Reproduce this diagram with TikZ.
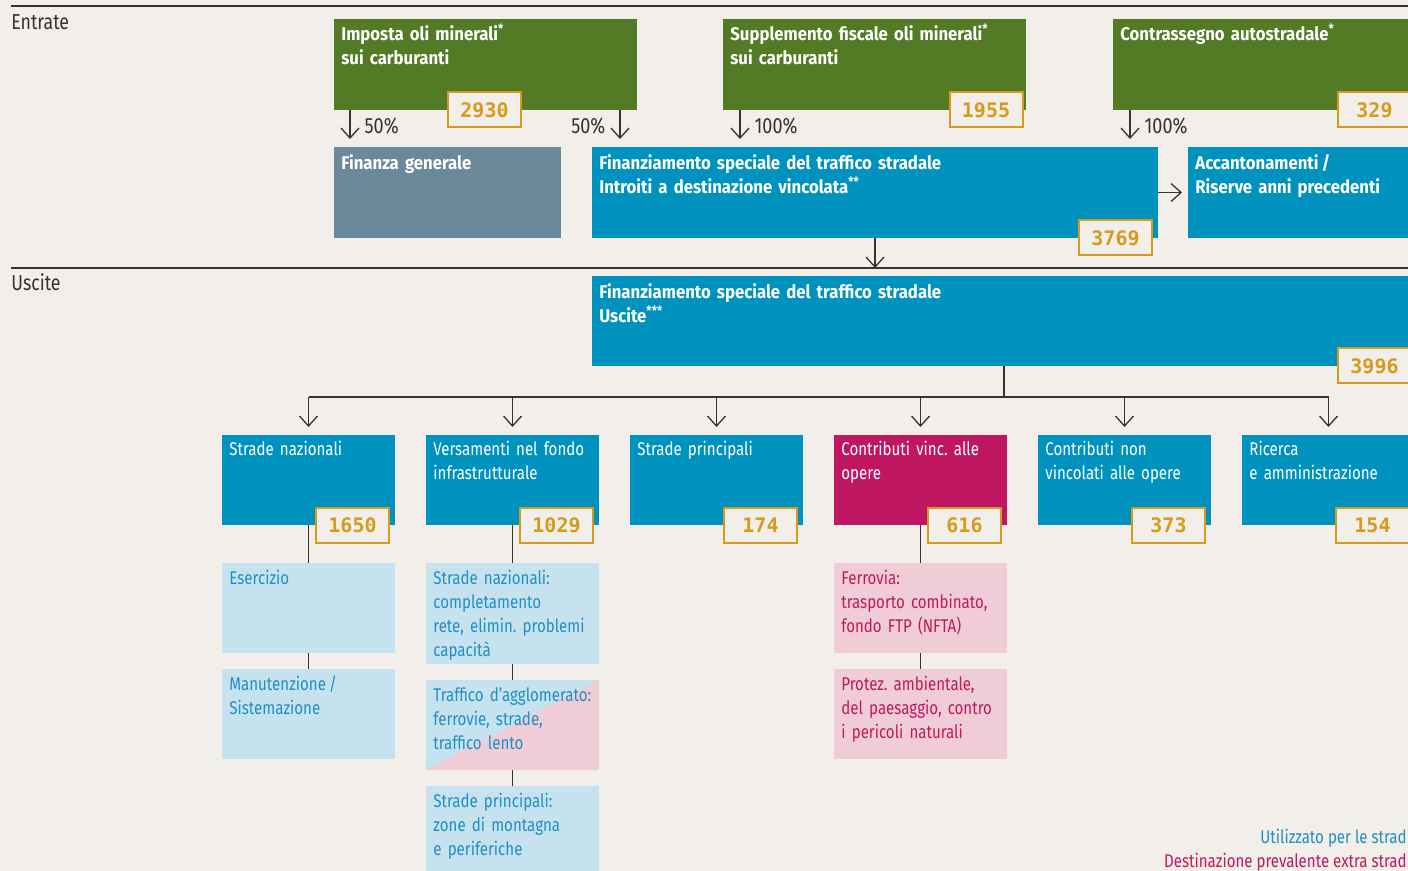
\documentclass[tikz,border=0pt]{standalone}
\usepackage{fontspec}
\setmainfont{Fira Sans}[UprightFeatures={FakeStretch=0.82}, BoldFeatures={FakeStretch=0.91}]
\newfontfamily\digitfont{DejaVu Sans Mono}
\usetikzlibrary{positioning}
\usetikzlibrary{arrows.meta}
\frenchspacing

\definecolor{paper}{HTML}{F2EFEA}
\definecolor{leaf}{HTML}{537A24}
\definecolor{sea}{HTML}{0092BF}
\definecolor{slate}{HTML}{6A8A9B}
\definecolor{berry}{HTML}{BE1660}
\definecolor{sky}{HTML}{C6E2EE}
\definecolor{blush}{HTML}{F0CDD6}
\definecolor{gold}{HTML}{D69A1C}
\definecolor{ink}{HTML}{333333}
\definecolor{skytext}{HTML}{1F8FC4}
\definecolor{berrytext}{HTML}{C0185F}

\begin{document}
\begin{tikzpicture}[
                x=0.5pt, y=-0.5pt,
                node distance=15.5pt,
                >={Straight Barb[length=5pt,width=9pt]},
                box/.style={
                        inner sep=0pt,
                        outer sep=0pt,
                        minimum width=86.5pt,
                        minimum height=45pt
                    },
                leafbox/.style={box, fill=leaf, minimum width=151.5pt, minimum height=45.5pt, anchor=north west},
                seabox/.style={box, fill=sea},
                berrybox/.style={box, fill=berry},
                skybox/.style={box, fill=sky},
                blushbox/.style={box, fill=blush},
                head/.style={
                        anchor=base west,
                        inner sep=0pt,
                        text width=220pt,
                        align=left,
                        text=white,
                        font=\bfseries\fontsize{9.2}{12}\selectfont
                    },
                plain/.style={head, font=\fontsize{9.2}{12}\selectfont},
                value/.style={
                        draw=gold,
                        fill=paper,
                        text=gold,
                        line width=1pt,
                        inner sep=0pt,
                        minimum width=36.5pt,
                        minimum height=17.5pt,
                        font=\digitfont\bfseries\fontsize{10}{12}\selectfont
                    },
                link/.style={draw=ink, line width=0.65pt},
                rule/.style={draw=ink, line width=0.8pt},
                pct/.style={text=ink, inner sep=0pt, font=\fontsize{11}{12}\selectfont},
                section/.style={anchor=base west, inner sep=0pt, text=ink, font=\fontsize{10.8}{12}\selectfont},
                legend/.style={anchor=base east, inner sep=0pt, font=\fontsize{9.2}{12}\selectfont}
            ]

            % Background and section rules
            \path[use as bounding box, fill=paper] (0,0) rectangle (1408,871);
            \draw[rule] (11,6) -- (1408,6);
            \draw[rule] (11,268) -- (1408,268);
            \node[section] (entrate) at (11,30) {Entrate};
            \node[section] (uscite) at (11,291) {Uscite};

            % Revenue boxes
            \node[leafbox] (imposta) at (334,19) {};
            \node[leafbox] (supp) at (723,19) {};
            \node[leafbox] (contr) at (1113,19) {};
            \node[head] (impostat) at ([shift={(7,22)}]imposta.north west) {Imposta oli minerali\textsuperscript{*}\\sui carburanti};
            \node[head] (suppt) at ([shift={(7,22)}]supp.north west) {Supplemento fiscale oli minerali\textsuperscript{*}\\sui carburanti};
            \node[head] (contrt) at ([shift={(7,22)}]contr.north west) {Contrassegno autostradale\textsuperscript{*}};

            % Second row
            \node[box, fill=slate, minimum width=113.5pt, minimum height=45.5pt, anchor=north west] (fingen) at (334,147) {};
            \node[box, fill=sea, minimum width=283pt, minimum height=45.5pt, anchor=north west] (fsts) at (592,147) {};
            \node[box, fill=sea, minimum width=114pt, minimum height=45.5pt, anchor=north west] (accant) at (1188,147) {};
            \node[head] (fingent) at ([shift={(7,23)}]fingen.north west) {Finanza generale};
            \node[head] (fstst) at ([shift={(7,23)}]fsts.north west) {Finanziamento speciale del traffico stradale\\Introiti a destinazione vincolata\textsuperscript{**}};
            \node[head] (accantt) at ([shift={(7,23)}]accant.north west) {Accantonamenti\,/\\Riserve anni precedenti};

            % Expenditure box
            \node[box, fill=sea, minimum width=412pt, anchor=north west] (usc) at (592,276) {};
            \node[head] (usct) at ([shift={(7,23)}]usc.north west) {Finanziamento speciale del traffico stradale\\Uscite\textsuperscript{***}};

            % Third row
            \node[seabox, anchor=north west] (sn) at (222,435) {};
            \node[seabox, right=of sn] (vf) {};
            \node[seabox, right=of vf] (sp) {};
            \node[berrybox, right=of sp] (cv) {};
            \node[seabox, right=of cv] (cn) {};
            \node[seabox, right=of cn] (ric) {};
            \node[plain, text=white] (snt) at ([shift={(7,21)}]sn.north west) {Strade nazionali};
            \node[plain, text=white] (vft) at ([shift={(7,21)}]vf.north west) {Versamenti nel fondo\\infrastrutturale};
            \node[plain, text=white] (spt) at ([shift={(7,21)}]sp.north west) {Strade principali};
            \node[plain, text=white] (cvt) at ([shift={(7,21)}]cv.north west) {Contributi vinc. alle\\opere};
            \node[plain, text=white] (cnt) at ([shift={(7,21)}]cn.north west) {Contributi non\\vincolati alle opere};
            \node[plain, text=white] (rict) at ([shift={(7,21)}]ric.north west) {Ricerca\\e amministrazione};

            % Detail boxes
            \node[skybox, below=19pt of sn] (eserc) {};
            \node[skybox, below=8pt of eserc] (manut) {};
            \node[skybox, minimum height=50.5pt, below=19pt of vf] (snc) {};
            \node[skybox, below=8pt of snc] (agglo) {};
            \node[skybox, below=8pt of agglo] (spz) {};
            \node[blushbox, below=19pt of cv] (ferr) {};
            \node[blushbox, below=8pt of ferr] (protez) {};
            \fill[blush] (agglo.south west) -- (agglo.north east) -- (agglo.south east) -- cycle;
            \node[plain, text=skytext] (esenct) at ([shift={(7,21)}]eserc.north west) {Esercizio};
            \node[plain, text=skytext] (manutt) at ([shift={(7,21)}]manut.north west) {Manutenzione\,/\\Sistemazione};
            \node[plain, text=skytext] (snct) at ([shift={(7,21)}]snc.north west) {Strade nazionali:\\completamento\\rete, elimin. problemi\\capacità};
            \node[plain, text=skytext] (agglot) at ([shift={(7,21)}]agglo.north west) {Traffico d’agglomerato:\\ferrovie, strade,\\traffico lento};
            \node[plain, text=skytext] (spzt) at ([shift={(7,21)}]spz.north west) {Strade principali:\\zone di montagna\\e periferiche};
            \node[plain, text=berrytext] (ferrt) at ([shift={(7,21)}]ferr.north west) {Ferrovia:\\trasporto combinato,\\fondo FTP (NFTA)};
            \node[plain, text=berrytext] (protezt) at ([shift={(7,21)}]protez.north west) {Protez. ambientale,\\del paesaggio, contro\\i pericoli naturali};

            % Arrows between revenue and funds
            \draw[link, ->, shorten >=4pt] ([xshift=8pt]imposta.south west) -- ([xshift=8pt]fingen.north west)
                node[pct, pos=0.42, right=7pt] (p1) {50\%};
            \draw[link, ->, shorten >=4pt] ([xshift=-8.5pt]imposta.south east) -- ([xshift=14pt]fsts.north west)
                node[pct, pos=0.42, left=7pt] (p2) {50\%};
            \draw[link, ->, shorten >=4pt] ([xshift=8.5pt]supp.south west) -- ([xshift=74pt]fsts.north west)
                node[pct, pos=0.42, right=7pt] (p3) {100\%};
            \draw[link, ->, shorten >=4pt] ([xshift=8.5pt]contr.south west) -- ([xshift=269pt]fsts.north west)
                node[pct, pos=0.42, right=7pt] (p4) {100\%};
            \draw[link, ->, shorten >=3pt] (fsts.east) -- (accant.west);
            \draw[link, ->, shorten >=4pt] (fsts.south) -- (fsts.south |- usc.north);

            % Tree of expenditure
            \coordinate (hub) at ([yshift=-15.5pt]usc.south);
            \draw[link] (usc.south) -- (hub);
            \draw[link] (sn.north |- hub) -- (ric.north |- hub);
            \foreach \b in {sn,vf,sp,cv,cn,ric}
                \draw[link, ->, shorten >=4pt] (\b.north |- hub) -- (\b.north);
            \draw[link] (sn) -- (eserc);
            \draw[link] (eserc) -- (manut);
            \draw[link] (vf) -- (snc);
            \draw[link] (snc) -- (agglo);
            \draw[link] (agglo) -- (spz);
            \draw[link] (cv) -- (ferr);
            \draw[link] (ferr) -- (protez);

            % Amounts
            \node[value] (v2930) at ([shift={(-152.5,0)}]imposta.south east) {2930};
            \node[value] (v1955) at ([shift={(-40,0)}]supp.south east) {1955};
            \node[value] (v329) at ([shift={(-41.5,0)}]contr.south east) {329};
            \node[value] (v3769) at ([shift={(-42.5,0)}]fsts.south east) {3769};
            \node[value] (v3996) at ([shift={(-41.5,0)}]usc.south east) {3996};
            \node[value] (v1650) at ([shift={(-42.5,0)}]sn.south east) {1650};
            \node[value] (v1029) at ([shift={(-42.5,0)}]vf.south east) {1029};
            \node[value] (v174) at ([shift={(-42.5,0)}]sp.south east) {174};
            \node[value] (v616) at ([shift={(-42.5,0)}]cv.south east) {616};
            \node[value] (v373) at ([shift={(-42.5,0)}]cn.south east) {373};
            \node[value] (v154) at ([shift={(-42.5,0)}]ric.south east) {154};

            % Legend
            \node[legend, text=skytext] (legroad) at (1407,843) {Utilizzato per le strad};
            \node[legend, text=berrytext] (legother) at (1407,867) {Destinazione prevalente extra strad};

        \end{tikzpicture}
\end{document}
